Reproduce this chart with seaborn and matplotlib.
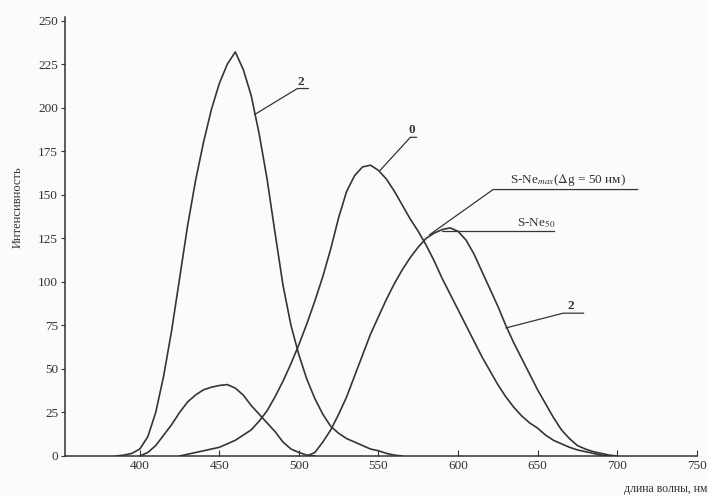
import pandas as pd
import seaborn as sns
import matplotlib.pyplot as plt

# curve 1 - tall narrow band
wl_1 = [385, 390, 395, 400, 405, 410, 415, 420, 425, 430, 435, 440, 445, 450, 455, 460,
        465, 470, 475, 480, 485, 490, 495, 500, 505, 510, 515, 520, 525, 530, 535, 540,
        545, 550, 555, 560, 565]
int_1 = [0, 0.5, 1.5, 4, 11, 25, 46, 72, 102, 132, 158, 180, 199, 214, 225, 232,
         222, 207, 185, 159, 128, 98, 75, 58, 44, 33, 24, 17, 13, 10, 8, 6,
         4, 3, 1.5, 0.5, 0]

# curve 2 - small band
wl_2 = [400, 405, 410, 415, 420, 425, 430, 435, 440, 445, 450, 455, 460, 465, 470, 475,
        480, 485, 490, 495, 500, 505, 510]
int_2 = [0, 2, 6, 12, 18, 25, 31, 35, 38, 39.5, 40.5, 41, 39, 35, 29, 24,
         19, 14, 8, 4, 2, 0.5, 0]

# curve 3 - S-Ne (Δg = 50 нм)
wl_3 = [425, 430, 440, 445, 450, 455, 460, 465, 470, 475, 480, 485, 490, 495, 500, 505,
        510, 515, 520, 525, 530, 535, 540, 545, 550, 555, 560, 565, 570, 575, 580, 585,
        590, 595, 600, 605, 610, 615, 620, 625, 630, 635, 640, 645, 650, 655, 660, 665,
        670, 675, 680, 685, 690, 695]
int_3 = [0, 1, 3, 4, 5, 7, 9, 12, 15, 20, 26, 34, 43, 53, 64, 76,
         89, 103, 119, 137, 152, 161, 166, 167, 164, 159, 152, 144, 136, 129, 121, 112,
         102, 93, 84, 75, 66, 57, 49, 41, 34, 28, 23, 19, 16, 12, 9, 7,
         5, 3.5, 2.5, 1.5, 0.5, 0]

# curve 4 - S-Ne
wl_4 = [505, 510, 515, 520, 525, 530, 535, 540, 545, 550, 555, 560, 565, 570, 575, 580,
        585, 590, 595, 600, 605, 610, 615, 620, 625, 630, 635, 640, 645, 650, 655, 660,
        665, 670, 675, 680, 685, 690, 695, 700]
int_4 = [0, 2, 8, 15, 24, 34, 46, 58, 70, 80, 90, 99, 107, 114, 120, 125,
         128, 130, 131, 129, 124, 116, 106, 96, 86, 75, 65, 56, 47, 38, 30, 22,
         15, 10, 6, 4, 2.5, 1.5, 0.5, 0]

x_ticks = [400, 450, 500, 550, 600, 650, 700, 750]
y_ticks = [0, 25, 50, 75, 100, 125, 150, 175, 200, 225, 250]

sns.set_style("ticks")
plt.rcParams['font.family'] = ['Liberation Serif', 'DejaVu Serif']
plt.rcParams['mathtext.fontset'] = 'stix'

line_col = '#353535'
bg = '#fcfafb'

fig = plt.figure(figsize=(7.09, 4.97), dpi=100, facecolor=bg)
ax = fig.add_axes([0.0917, 0.0825, 0.891, 0.883], facecolor=bg)

curves = [(wl_1, int_1), (wl_2, int_2), (wl_3, int_3), (wl_4, int_4)]
for wl, inten in curves:
    df = pd.DataFrame({'wl': wl, 'I': inten})
    sns.lineplot(data=df, x='wl', y='I', ax=ax, color=line_col, linewidth=1.2)

ax.set_xlim(353, 750)
ax.set_ylim(0, 252)
ax.set_xticks(x_ticks)
ax.set_yticks(y_ticks)
ax.tick_params(axis='x', direction='in', length=4, width=0.8, colors='#333333',
               labelsize=9.5, pad=3)
ax.tick_params(axis='y', direction='out', length=3, width=0.8, colors='#333333',
               labelsize=9.5, pad=2)
sns.despine(ax=ax)
for s in ['left', 'bottom']:
    ax.spines[s].set_color('#333333')
    ax.spines[s].set_linewidth(1.1)

ax.set_xlabel('длина волны, нм', fontsize=8.5, color='#333333', loc='right')
ax.xaxis.set_label_coords(1.017, -0.062)
ax.set_ylabel('Интенсивность', fontsize=9, color='#333333')
ax.yaxis.set_label_coords(-0.066, 0.567)

# leader lines with labels
def leader(pts, txt, tx, ty, size=9.5):
    xs = [p[0] for p in pts]
    ys = [p[1] for p in pts]
    ax.plot(xs, ys, color=line_col, linewidth=0.9)
    ax.text(tx, ty, txt, fontsize=size, color='#333333', ha='center', va='bottom',
            fontweight='bold')

leader([(472, 196), (499, 211), (506, 211)], '2', 501, 211.5)
leader([(551, 164), (570, 183), (574, 183)], '0', 571, 183.5)
ax.plot([582, 622, 713], [127, 153, 153], color=line_col, linewidth=0.9)
ax.text(669, 154, r'S-Ne$_{max}$($\Delta$g = 50 нм)', fontsize=9.5, color='#333333',
        ha='center', va='bottom')
ax.plot([590, 660], [129, 129], color=line_col, linewidth=0.9)
ax.text(649, 129.5, r'S-Ne$_{50}$', fontsize=9.5, color='#333333', ha='center', va='bottom')
leader([(630, 73.5), (666, 82), (679, 82)], '2', 671, 82.5)

plt.savefig('out.png', dpi=100, facecolor=bg)
